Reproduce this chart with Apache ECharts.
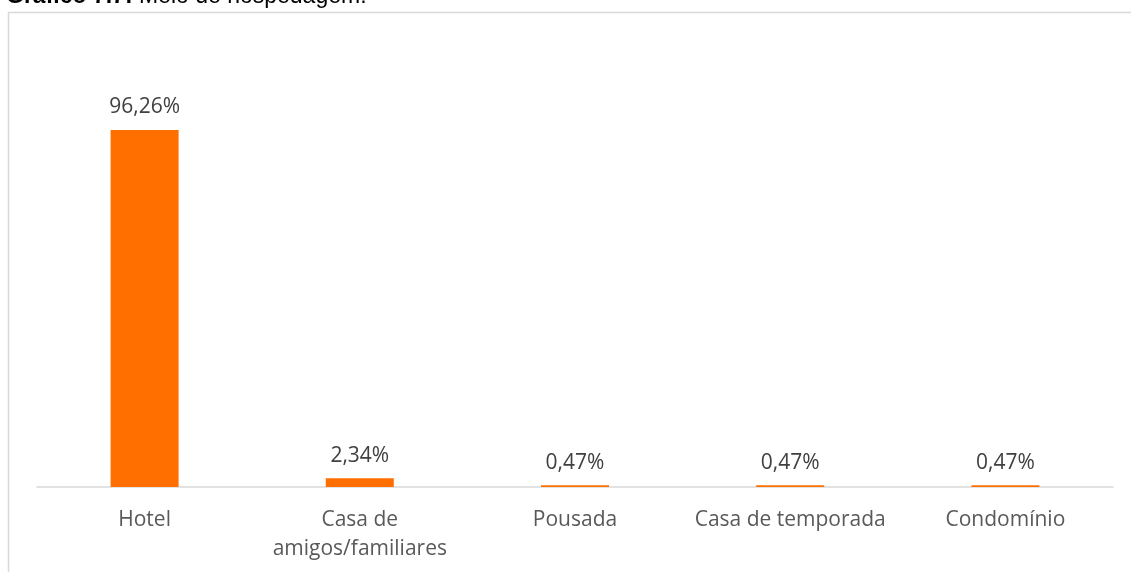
<!DOCTYPE html>
<html>
<head>
<meta charset="utf-8">
<title>Meio de hospedagem</title>
<script src="https://cdn.jsdelivr.net/npm/echarts@6/dist/echarts.min.js"></script>
<style>
  html, body { margin: 0; padding: 0; background: #fff; }
  #chart { width: 1131px; height: 572px; }
</style>
</head>
<body>
<div id="chart"></div>
<script>
// dados do gráfico
const categorias = ['Hotel', 'Casa de\namigos/familiares', 'Pousada', 'Casa de temporada', 'Condomínio'];
const percentuais = [96.26, 2.34, 0.47, 0.47, 0.47];

const fonte = '"Open Sans", sans-serif';

const chart = echarts.init(document.getElementById('chart'));

chart.setOption({
  backgroundColor: '#fff',
  animation: false,
  graphic: [
    {
      // moldura da área do gráfico
      type: 'rect',
      shape: { x: 8.5, y: 12.5, width: 1140, height: 580 },
      style: { fill: 'none', stroke: '#d9d9d9', lineWidth: 1.5 },
      silent: true
    },
    {
      // título cortado no topo
      type: 'text',
      left: 6,
      top: -15,
      style: {
        text: '{b|Gráfico 7.7:} Meio de hospedagem:',
        font: '23px "Liberation Sans", Arial, sans-serif',
        fill: '#000',
        rich: {
          b: { font: 'bold 23px "Liberation Sans", Arial, sans-serif', fill: '#000' }
        }
      }
    }
  ],
  grid: {
    left: 37,
    right: 18,
    top: 116,
    bottom: 85,
    containLabel: false
  },
  xAxis: {
    type: 'category',
    data: categorias,
    axisLine: { lineStyle: { color: '#d9d9d9', width: 1.5 } },
    axisTick: { show: false },
    axisLabel: {
      interval: 0,
      margin: 19,
      color: '#595959',
      fontFamily: fonte,
      fontSize: 21,
      lineHeight: 29
    }
  },
  yAxis: {
    type: 'value',
    min: 0,
    max: 100,
    show: false
  },
  series: [
    {
      type: 'bar',
      data: percentuais,
      barWidth: '31.6%',
      itemStyle: { color: '#ff6f00' },
      label: {
        show: true,
        position: 'top',
        distance: 12,
        color: '#404040',
        fontFamily: fonte,
        fontSize: 21,
        formatter: p => p.value.toFixed(2).replace('.', ',') + '%'
      }
    }
  ]
});

window.addEventListener('resize', () => {
  if (chart) {
    chart.resize();
  }
});
</script>
</body>
</html>
